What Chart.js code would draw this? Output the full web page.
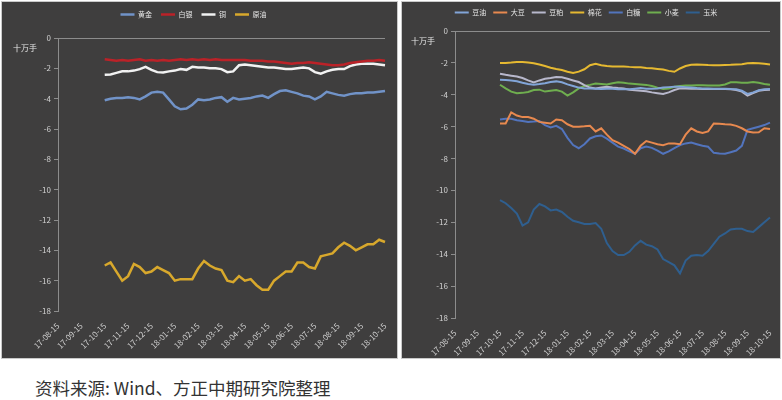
<!DOCTYPE html>
<html lang="zh-CN">
<head>
<meta charset="UTF-8">
<title>期货净持仓</title>
<script src="https://cdn.jsdelivr.net/npm/chart.js"></script>
<style>
  html, body { margin: 0; padding: 0; background: #fff; }
  body { width: 782px; height: 400px; position: relative; overflow: hidden; font-family: "Noto Sans CJK SC", sans-serif; }
  .panel { position: absolute; top: 2px; height: 356px; background: #3f3e3e; box-shadow: 0 0 0 1px #c9c9c9; }
  #p1 { left: 2px; width: 395px; }
  #p2 { left: 402px; width: 378px; }
  .source { position: absolute; left: 35px; top: 375px; font-size: 17.5px; color: #333; white-space: nowrap; }
</style>
</head>
<body>

<div class="panel" id="p1"><canvas id="c1"></canvas></div>
<div class="panel" id="p2"><canvas id="c2"></canvas></div>
<div class="source">资料来源: Wind、方正中期研究院整理</div>

<script>
// 月份刻度
const months = ['17-08-15','17-09-15','17-10-15','17-11-15','17-12-15','18-01-15','18-02-15',
                '18-03-15','18-04-15','18-05-15','18-06-15','18-07-15','18-08-15','18-09-15','18-10-15'];
const weeksPerMonth = 4;
const firstMonth = 2;   // 数据从 17-10-15 开始

// 左图：贵金属 / 原油（十万手）
const gold = [-4.1,-4.0,-3.95,-3.95,-3.9,-3.95,-4.05,-3.85,-3.6,-3.55,
  -3.6,-4.05,-4.5,-4.7,-4.65,-4.4,-4.05,-4.1,-4.05,-3.95,
  -3.9,-4.2,-3.95,-4.05,-4.0,-3.95,-3.85,-3.8,-3.95,-3.7,
  -3.5,-3.45,-3.55,-3.65,-3.8,-3.85,-4.05,-3.85,-3.55,-3.65,
  -3.75,-3.8,-3.7,-3.65,-3.65,-3.6,-3.6,-3.55,-3.5];
const silver = [-1.4,-1.45,-1.5,-1.45,-1.5,-1.45,-1.4,-1.5,-1.45,-1.5,
  -1.45,-1.5,-1.45,-1.4,-1.45,-1.4,-1.45,-1.4,-1.45,-1.4,
  -1.45,-1.45,-1.45,-1.45,-1.45,-1.5,-1.5,-1.5,-1.55,-1.55,
  -1.6,-1.65,-1.7,-1.65,-1.65,-1.6,-1.65,-1.7,-1.75,-1.8,
  -1.8,-1.75,-1.65,-1.6,-1.55,-1.5,-1.5,-1.45,-1.5];
const copper = [-2.42,-2.4,-2.3,-2.2,-2.2,-2.15,-2.05,-1.9,-2.1,-2.25,
  -2.28,-2.2,-2.15,-2.05,-2.1,-1.9,-1.95,-1.95,-2.0,-2.0,
  -2.05,-2.25,-2.2,-1.8,-1.75,-1.8,-1.85,-1.9,-1.95,-1.95,
  -2.0,-2.05,-2.05,-2.0,-1.95,-2.0,-2.25,-2.35,-2.2,-2.1,
  -2.05,-2.05,-1.85,-1.75,-1.7,-1.7,-1.7,-1.75,-1.8];
const crude = [-15.0,-14.8,-15.4,-16.0,-15.7,-14.9,-15.1,-15.5,-15.4,-15.1,
  -15.3,-15.5,-16.0,-15.9,-15.9,-15.9,-15.2,-14.7,-15.0,-15.2,
  -15.3,-16.0,-16.1,-15.7,-16.0,-15.9,-16.3,-16.6,-16.6,-16.0,
  -15.7,-15.4,-15.4,-14.8,-14.8,-15.1,-15.2,-14.4,-14.3,-14.2,
  -13.8,-13.5,-13.7,-14.0,-13.8,-13.6,-13.6,-13.3,-13.45];

// 右图：农产品（十万手）
const soyOil = [-3.06,-3.08,-3.1,-3.15,-3.25,-3.33,-3.37,-3.33,-3.28,-3.2,
  -3.16,-3.22,-3.35,-3.45,-3.55,-3.6,-3.6,-3.62,-3.64,-3.62,
  -3.62,-3.65,-3.66,-3.66,-3.62,-3.58,-3.62,-3.62,-3.6,-3.55,
  -3.52,-3.5,-3.5,-3.52,-3.55,-3.58,-3.6,-3.6,-3.62,-3.62,
  -3.62,-3.64,-3.65,-3.75,-3.95,-3.85,-3.72,-3.66,-3.64];
const soybean = [-5.8,-5.8,-5.1,-5.3,-5.4,-5.4,-5.5,-5.7,-5.75,-5.8,
  -5.55,-5.6,-5.85,-6.0,-6.0,-5.98,-5.95,-6.3,-6.1,-6.5,
  -6.85,-7.0,-7.2,-7.4,-7.7,-7.2,-6.9,-7.0,-7.1,-7.16,
  -7.05,-7.05,-7.1,-6.5,-6.1,-6.3,-6.4,-6.3,-5.8,-5.82,
  -5.85,-5.87,-5.95,-6.1,-6.3,-6.37,-6.35,-6.1,-6.15];
const soyMeal = [-2.68,-2.75,-2.8,-2.85,-2.95,-3.1,-3.22,-3.1,-3.0,-2.95,
  -2.88,-2.9,-3.0,-3.1,-3.2,-3.4,-3.55,-3.6,-3.55,-3.5,
  -3.55,-3.58,-3.6,-3.68,-3.72,-3.75,-3.78,-3.85,-3.9,-3.95,
  -3.85,-3.7,-3.6,-3.6,-3.62,-3.62,-3.63,-3.63,-3.63,-3.63,
  -3.63,-3.65,-3.7,-3.8,-4.05,-3.9,-3.75,-3.7,-3.69];
const cotton = [-2.0,-2.0,-1.98,-1.95,-1.94,-1.98,-2.02,-2.1,-2.2,-2.3,
  -2.38,-2.45,-2.55,-2.63,-2.55,-2.4,-2.15,-2.06,-2.15,-2.2,
  -2.22,-2.22,-2.22,-2.25,-2.27,-2.28,-2.32,-2.34,-2.38,-2.42,
  -2.5,-2.56,-2.35,-2.2,-2.12,-2.1,-2.12,-2.14,-2.15,-2.15,
  -2.13,-2.12,-2.1,-2.08,-2.02,-2.0,-2.02,-2.06,-2.1];
const sugar = [-5.55,-5.5,-5.5,-5.6,-5.65,-5.7,-5.68,-5.65,-5.9,-6.05,
  -5.95,-6.15,-6.7,-7.15,-7.35,-7.1,-6.74,-6.6,-6.55,-6.75,
  -7.0,-7.25,-7.37,-7.55,-7.7,-7.35,-7.25,-7.33,-7.5,-7.7,
  -7.55,-7.35,-7.16,-7.05,-7.0,-7.1,-7.2,-7.26,-7.64,-7.68,
  -7.7,-7.6,-7.5,-7.2,-6.2,-6.1,-6.0,-5.9,-5.75];
const wheat = [-3.37,-3.6,-3.8,-3.9,-3.88,-3.82,-3.7,-3.68,-3.8,-3.75,
  -3.7,-3.8,-4.05,-3.85,-3.6,-3.45,-3.38,-3.3,-3.32,-3.35,
  -3.28,-3.22,-3.25,-3.3,-3.32,-3.35,-3.38,-3.45,-3.55,-3.64,
  -3.6,-3.5,-3.45,-3.42,-3.42,-3.4,-3.4,-3.42,-3.42,-3.42,
  -3.35,-3.22,-3.22,-3.24,-3.25,-3.2,-3.25,-3.32,-3.37];
const corn = [-10.6,-10.8,-11.1,-11.45,-12.2,-12.0,-11.2,-10.85,-11.0,-11.25,
  -11.2,-11.35,-11.65,-11.9,-12.0,-12.1,-12.1,-12.05,-12.4,-13.3,
  -13.8,-14.05,-14.05,-13.85,-13.45,-13.16,-13.4,-13.5,-13.7,-14.3,
  -14.5,-14.7,-15.2,-14.4,-14.1,-14.05,-14.1,-13.8,-13.35,-12.9,
  -12.7,-12.45,-12.4,-12.4,-12.55,-12.6,-12.3,-12.0,-11.7];

// 周度槽位：每月 4 格，只有月初写标签
const slots = [];
months.forEach((m, i) => {
  slots.push(m);
  if (i < months.length - 1) for (let k = 1; k < weeksPerMonth; k++) slots.push('');
});
const pad = v => Array(firstMonth * weeksPerMonth).fill(null).concat(v);

const FONT = '"Noto Sans CJK SC", sans-serif';

// “十万手”单位文字
const unitLabel = {
  id: 'unitLabel',
  afterDraw(chart, args, opts) {
    const { ctx, chartArea } = chart;
    ctx.save();
    ctx.fillStyle = '#e6e6e6';
    ctx.font = '8px ' + FONT;
    ctx.textAlign = 'center';
    ctx.textBaseline = 'middle';
    ctx.fillText(opts.text, chartArea.left - opts.dx, chartArea.top + opts.dy);
    ctx.restore();
  }
};

function ds(label, data, color, width) {
  return { label, data: pad(data), borderColor: color, backgroundColor: color,
           borderWidth: width, pointRadius: 0, tension: 0, spanGaps: false };
}

function makeChart(id, datasets, cfg) {
  new Chart(document.getElementById(id), {
    type: 'line',
    data: { labels: slots, datasets },
    plugins: [unitLabel],
    options: {
      responsive: true,
      maintainAspectRatio: false,
      animation: false,
      events: [],
      layout: { padding: { top: 0, right: cfg.padRight, bottom: 0, left: 0 } },
      plugins: {
        legend: {
          position: 'top',
          labels: { color: '#e6e6e6', font: { size: 7, family: FONT }, usePointStyle: true,
                    pointStyle: 'line', pointStyleWidth: 14, padding: cfg.legendPad }
        },
        tooltip: { enabled: false },
        unitLabel: { text: '十万手', dx: cfg.unitDx, dy: 10 }
      },
      scales: {
        x: {
          grid: { display: false }, border: { display: false },
          ticks: { autoSkip: false, maxRotation: 45, minRotation: 45, color: '#d2d2d2',
                   font: { size: 8, family: FONT }, padding: 2 },
          afterFit: s => { s.height = cfg.xHeight; }
        },
        xTop: {
          type: 'category', position: 'top', labels: slots,
          grid: { display: false }, border: { display: false }, ticks: { display: false },
          afterFit: s => { s.height = cfg.topGap; }
        },
        y: {
          min: -18, max: 0,
          ticks: { stepSize: 2, color: '#d2d2d2', font: { size: 8, family: FONT }, padding: 3 },
          grid: { color: c => c.tick && c.tick.value === 0 ? '#8c8c8c' : 'transparent',
                  tickColor: '#8c8c8c', tickLength: 4 },
          border: { display: true, color: '#8c8c8c' },
          afterFit: s => { s.width = cfg.yWidth; }
        }
      }
    }
  });
}

makeChart('c1', [
  ds('黄金', gold, '#7193c8', 2.5),
  ds('白银', silver, '#bb2228', 2.5),
  ds('铜', copper, '#f2f2f2', 2.5),
  ds('原油', crude, '#d8a82c', 2.5)
], { padRight: 12, legendPad: 9, topGap: 10, xHeight: 47, yWidth: 56, unitDx: 33 });

makeChart('c2', [
  ds('豆油', soyOil, '#82a5d8', 2),
  ds('大豆', soybean, '#e8894f', 2),
  ds('豆粕', soyMeal, '#b8b8cc', 2),
  ds('棉花', cotton, '#e6b931', 2),
  ds('白糖', sugar, '#5274bd', 2),
  ds('小麦', wheat, '#6fae4f', 2),
  ds('玉米', corn, '#2f5f8f', 2)
], { padRight: 10, legendPad: 7, topGap: 5, xHeight: 40, yWidth: 53, unitDx: 32 });
</script>
</body>
</html>
